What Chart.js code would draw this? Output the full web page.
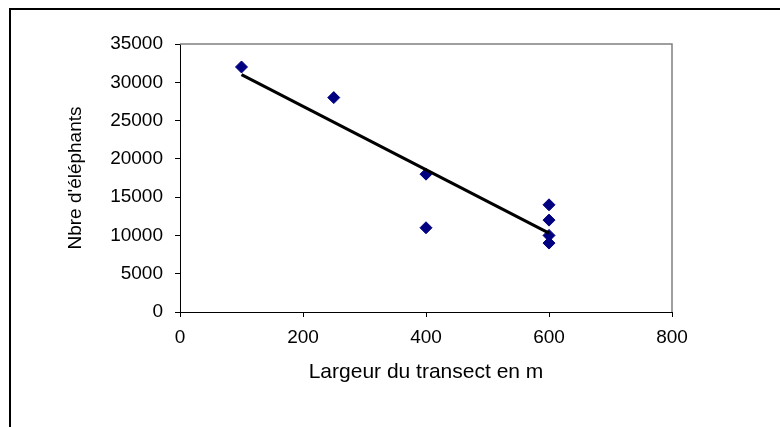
<!DOCTYPE html>
<html>
<head>
<meta charset="utf-8">
<script src="https://cdn.jsdelivr.net/npm/chart.js@4"></script>
<style>
  body { margin: 0; background: #fff; }
  #wrap { position: relative; width: 780px; height: 427px; overflow: hidden; }
  #frame { position: absolute; left: 9px; top: 8px; width: 800px; height: 500px;
           border-top: 2px solid #000; border-left: 2px solid #000; }
  #scatterChart { position: absolute; left: 0; top: 0; }
</style>
</head>
<body>
<div id="wrap">
  <div id="frame"></div>
  <canvas id="scatterChart" width="780" height="427"></canvas>
</div>
<script>
// largeur du transect (m) et nombre d'elephants
const widths = [100, 250, 400, 400, 600, 600, 600, 600];
const elephants = [32000, 28000, 18000, 11000, 14000, 12000, 10000, 9000];
// droite de tendance (extremites)
const trendX = [100, 600];
const trendY = [31000, 10300];

const xTitle = "Largeur du transect en m";
const yTitle = "Nbre d'éléphants";

const points = widths.map((w, i) => ({ x: w, y: elephants[i] }));
const trend = trendX.map((w, i) => ({ x: w, y: trendY[i] }));

const family = "Liberation Sans, Arial, sans-serif";
const tickFont = { family: family, size: 19 };

// bordure grise haut / droite de la zone de tracé
const plotFrame = {
  id: "plotFrame",
  beforeDatasetsDraw(chart) {
    const a = chart.chartArea;
    const c = chart.ctx;
    c.save();
    c.strokeStyle = "#808080";
    c.lineWidth = 1.5;
    c.beginPath();
    c.moveTo(a.left, a.top);
    c.lineTo(a.right, a.top);
    c.lineTo(a.right, a.bottom);
    c.stroke();
    c.restore();
  }
};

const ctx = document.getElementById("scatterChart");
const myChart = new Chart(ctx, {
  type: "scatter",
  data: {
    datasets: [
      {
        label: "tendance",
        data: trend,
        showLine: true,
        borderColor: "#000",
        borderWidth: 3,
        pointRadius: 0,
        fill: false,
        order: 0,
      },
      {
        label: "Nbre",
        data: points,
        pointStyle: "rectRot",
        pointRadius: 6,
        pointBorderWidth: 1,
        backgroundColor: "#000080",
        borderColor: "#000080",
        order: 1,
      },
    ],
  },
  options: {
    responsive: false,
    animation: false,
    devicePixelRatio: 1,
    layout: { padding: { left: 0, top: 44, right: 108, bottom: 0 } },
    plugins: { legend: { display: false }, tooltip: { enabled: false } },
    scales: {
      x: {
        type: "linear",
        min: 0,
        max: 800,
        ticks: { stepSize: 200, color: "#000", font: tickFont, padding: 9, maxRotation: 0,
                 callback: (v) => String(v) },
        grid: { drawOnChartArea: false, drawTicks: true, tickLength: 5, color: "#000" },
        border: { display: true, color: "#000", width: 1 },
        title: { display: true, text: xTitle, color: "#000", font: { family: family, size: 21 },
                 padding: { top: 0, bottom: 42 } },
        afterFit(scale) { scale.height = 115; },
      },
      y: {
        type: "linear",
        min: 0,
        max: 35000,
        ticks: { stepSize: 5000, color: "#000", font: tickFont, padding: 12,
                 callback: (v) => String(v) },
        grid: { drawOnChartArea: false, drawTicks: true, tickLength: 5, color: "#000" },
        border: { display: true, color: "#000", width: 1 },
        title: { display: true, text: yTitle, color: "#000", font: { family: family, size: 19 },
                 padding: { top: 64, bottom: 0 } },
        afterFit(scale) { scale.width = 180; },
      },
    },
  },
  plugins: [plotFrame],
});
</script>
</body>
</html>
